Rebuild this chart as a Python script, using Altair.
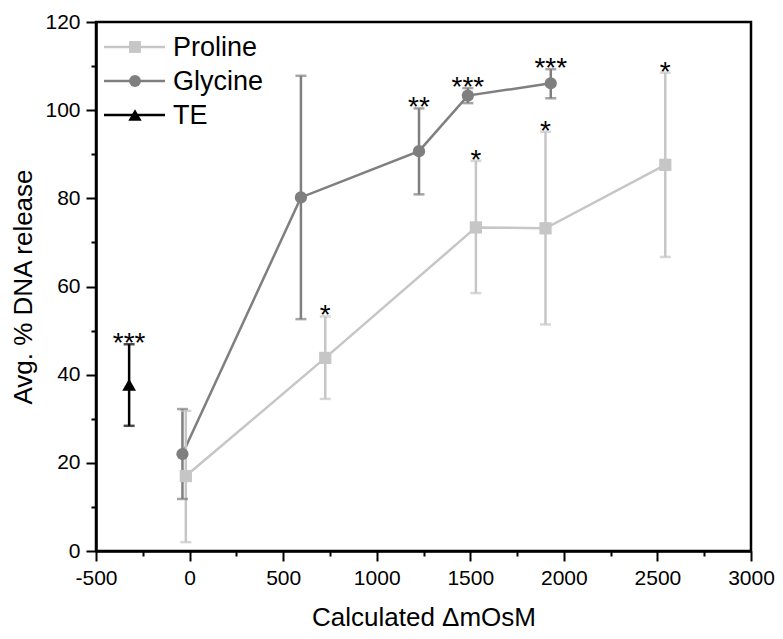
import altair as alt
import pandas as pd

series_names = ["Proline", "Glycine", "TE"]
series_colors = ["#c6c6c6", "#7f7f7f", "#000000"]
series_shapes = ["square", "circle", "triangle-up"]

proline_x = [-20, 725, 1530, 1902, 2542]
proline_y = [17.0, 43.8, 73.4, 73.2, 87.6]
proline_lo = [2.0, 34.5, 58.5, 51.4, 66.7]
proline_hi = [31.8, 53.2, 88.5, 95.1, 108.5]
proline_sig = ["", "*", "*", "*", "*"]

glycine_x = [-38, 595, 1226, 1487, 1930]
glycine_y = [22.0, 80.2, 90.7, 103.3, 106.1]
glycine_lo = [11.8, 52.6, 80.9, 101.6, 102.7]
glycine_hi = [32.2, 107.8, 100.4, 105.0, 109.3]
glycine_sig = ["", "", "**", "***", "***"]

te_x = [-323]
te_y = [37.7]
te_lo = [28.4]
te_hi = [46.9]
te_sig = ["***"]

x_ticks = list(range(-500, 3001, 250))
y_ticks = list(range(0, 121, 10))

rows = []
for name, xs, ys, los, his, sigs in [
    ("Proline", proline_x, proline_y, proline_lo, proline_hi, proline_sig),
    ("Glycine", glycine_x, glycine_y, glycine_lo, glycine_hi, glycine_sig),
    ("TE", te_x, te_y, te_lo, te_hi, te_sig),
]:
    for i in range(len(xs)):
        rows.append({"Series": name, "x": xs[i], "y": ys[i], "lo": los[i],
                     "hi": his[i], "sig": sigs[i], "order": i})
df = pd.DataFrame(rows)
legend_df = pd.DataFrame({"Series": series_names})

FONT = "Liberation Sans"

xscale = alt.Scale(domain=[-500, 3000], nice=False, zero=False)
yscale = alt.Scale(domain=[0, 120], nice=False)
cscale = alt.Scale(domain=series_names, range=series_colors)

xaxis = alt.Axis(
    values=x_ticks, labelFlush=False,
    labelExpr="datum.value % 500 === 0 ? '' + datum.value : ''",
    tickSize={"condition": {"test": "datum.value % 500 === 0", "value": 10}, "value": 5},
    title="Calculated ΔmOsM", titlePadding=16, labelPadding=6,
)
yaxis = alt.Axis(
    values=y_ticks, labelFlush=False,
    labelExpr="datum.value % 20 === 0 ? '' + datum.value : ''",
    tickSize={"condition": {"test": "datum.value % 20 === 0", "value": 10}, "value": 5},
    title="Avg. % DNA release", titlePadding=8, labelPadding=6,
)

X = alt.X("x:Q", scale=xscale, axis=xaxis)
Y = alt.Y("y:Q", scale=yscale, axis=yaxis)
C = alt.Color("Series:N", scale=cscale, legend=None)

base = alt.Chart(df)

lines = base.transform_filter("datum.Series !== 'TE'").mark_line(strokeWidth=2.5).encode(
    x=X, y=Y, color=C, detail="Series:N", order="order:Q")

err = base.mark_rule(strokeWidth=2.5).encode(
    x="x:Q", y="lo:Q", y2="hi:Q", color=C)

cap_lo = base.mark_tick(orient="horizontal", size=11, thickness=2.5).encode(
    x="x:Q", y="lo:Q", color=C)
cap_hi = base.mark_tick(orient="horizontal", size=11, thickness=2.5).encode(
    x="x:Q", y="hi:Q", color=C)

marker_sizes = [150, 150, 190]
layers = [lines, err, cap_lo, cap_hi]
for name, shp, sz in zip(series_names, series_shapes, marker_sizes):
    layers.append(base.transform_filter(f"datum.Series === '{name}'").mark_point(
        shape=shp, filled=True, opacity=1, size=sz).encode(x="x:Q", y="y:Q", color=C))

stars = base.transform_filter("datum.sig !== ''").mark_text(
    fontSize=28, font=FONT, baseline="alphabetic", dy=8, color="black").encode(
    x="x:Q", y="hi:Q", text="sig:N")
layers.append(stars)

# legend (top-left, inside plot)
lbase = alt.Chart(legend_df)
for i, (name, col, shp, sz) in enumerate(zip(series_names, series_colors, series_shapes, marker_sizes)):
    yy = 25 + 34 * i
    sub = lbase.transform_filter(f"datum.Series === '{name}'")
    layers.append(sub.mark_rule(color=col, strokeWidth=2.5).encode(
        x=alt.value(8), x2=alt.value(69), y=alt.value(yy)))
    layers.append(sub.mark_point(shape=shp, filled=True, opacity=1, size=sz - 10, color=col).encode(
        x=alt.value(39), y=alt.value(yy)))
    layers.append(sub.mark_text(align="left", baseline="middle", fontSize=27, font=FONT,
                                color="black", dy=1).encode(
        x=alt.value(77), y=alt.value(yy), text="Series:N"))

chart = alt.layer(*layers).properties(
    width=655, height=529,
    autosize=alt.AutoSizeParams(type="none"),
    padding={"left": 88, "top": 14, "right": 24, "bottom": 80},
).configure_view(stroke="black", strokeWidth=2.5).configure_axis(
    grid=False, domainColor="black", domainWidth=2.5, tickColor="black", tickWidth=2,
    labelFont=FONT, labelFontSize=21, labelColor="black",
    titleFont=FONT, titleFontSize=26, titleFontWeight="normal", titleColor="black",
)

chart.save("out.html", embed_options={"renderer": "svg", "actions": False})
